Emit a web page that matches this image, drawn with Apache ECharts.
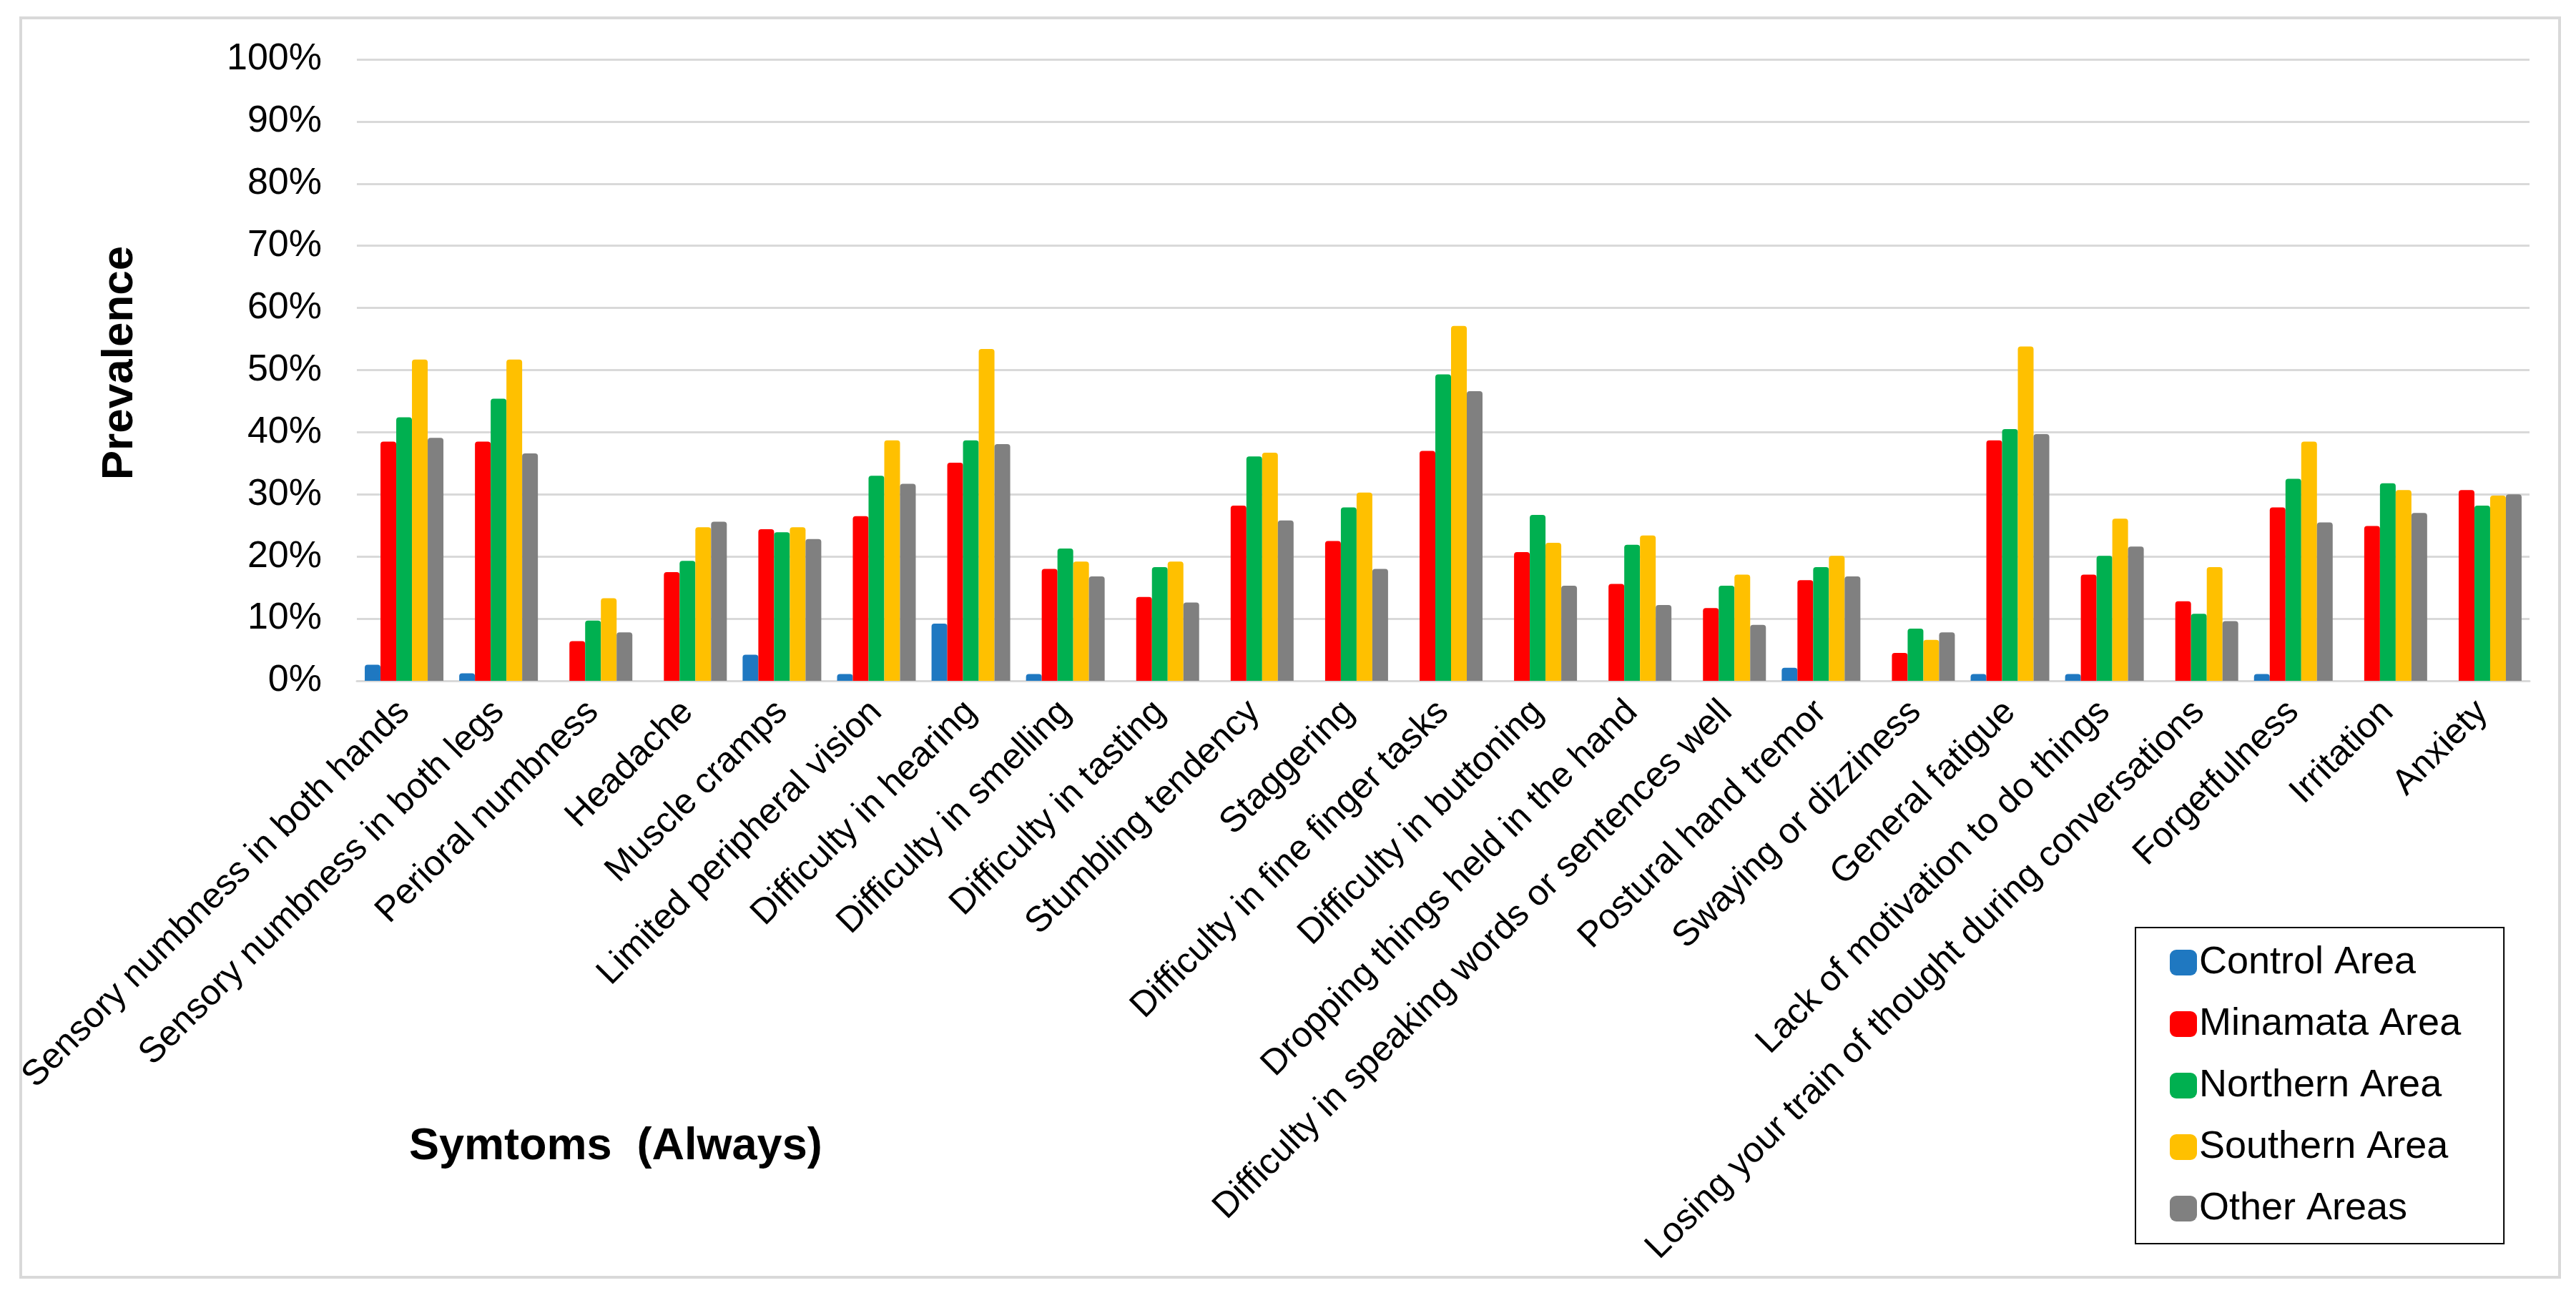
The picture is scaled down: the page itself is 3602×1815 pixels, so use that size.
<!DOCTYPE html>
<html>
<head>
<meta charset="utf-8">
<script src="https://cdn.jsdelivr.net/npm/echarts@6/dist/echarts.min.js"></script>
<style>
  html, body { margin: 0; padding: 0; background: #fff; }
  #main { width: 3602px; height: 1815px; }
</style>
</head>
<body>
<div id="main"></div>
<script>
var symptoms = [
  'Sensory numbness in both hands',
  'Sensory numbness in both legs',
  'Perioral numbness',
  'Headache',
  'Muscle cramps',
  'Limited peripheral vision',
  'Difficulty in hearing',
  'Difficulty in smelling',
  'Difficulty in tasting',
  'Stumbling tendency',
  'Staggering',
  'Difficulty in fine finger tasks',
  'Difficulty in buttoning',
  'Dropping things held in the hand',
  'Difficulty in speaking words or sentences well',
  'Postural hand tremor',
  'Swaying or dizziness',
  'General fatigue',
  'Lack of motivation to do things',
  'Losing your train of thought during conversations',
  'Forgetfulness',
  'Irritation',
  'Anxiety'
];

// prevalence in %
var controlArea  = [2.6, 1.2, 0, 0, 4.2, 1.1, 9.2, 1.1, 0, 0, 0, 0, 0, 0, 0, 2.1, 0, 1.1, 1.1, 0, 1.1, 0, 0];
var minamataArea = [38.5, 38.5, 6.4, 17.5, 24.4, 26.5, 35.1, 18.0, 13.5, 28.2, 22.5, 37.0, 20.7, 15.6, 11.7, 16.2, 4.5, 38.7, 17.1, 12.8, 27.9, 24.9, 30.7];
var northernArea = [42.4, 45.4, 9.7, 19.3, 23.9, 33.0, 38.7, 21.3, 18.3, 36.1, 27.9, 49.3, 26.7, 21.9, 15.3, 18.3, 8.4, 40.5, 20.1, 10.8, 32.5, 31.8, 28.2];
var southernArea = [51.7, 51.7, 13.3, 24.7, 24.7, 38.7, 53.4, 19.2, 19.2, 36.7, 30.3, 57.1, 22.2, 23.4, 17.1, 20.1, 6.6, 53.8, 26.1, 18.3, 38.5, 30.7, 29.8];
var otherAreas   = [39.1, 36.6, 7.8, 25.6, 22.8, 31.7, 38.1, 16.8, 12.6, 25.8, 18.0, 46.6, 15.3, 12.2, 9.0, 16.8, 7.8, 39.7, 21.6, 9.6, 25.5, 27.0, 30.0];

var seriesNames = ['Control Area', 'Minamata Area', 'Northern Area', 'Southern Area', 'Other Areas'];
var seriesColors = ['#1F78C1', '#FF0000', '#00B050', '#FFC000', '#808080'];
var seriesData = [controlArea, minamataArea, northernArea, southernArea, otherAreas];

var font = '"Liberation Sans", Arial, sans-serif';
var myChart = echarts.init(document.getElementById('main'));

var series = seriesNames.map(function (name, i) {
  return {
    name: name,
    type: 'bar',
    data: seriesData[i],
    barWidth: 22,
    barGap: '0%',
    itemStyle: { color: seriesColors[i], borderRadius: [4, 4, 0, 0] }
  };
});

var option = {
  backgroundColor: '#fff',
  animation: false,
  textStyle: { fontFamily: font },
  graphic: [{
    type: 'rect',
    shape: { x: 29, y: 25, width: 3550, height: 1761 },
    style: { fill: null, stroke: '#D9D9D9', lineWidth: 4 },
    silent: true
  }],
  title: {
    text: 'Symtoms  (Always)',
    left: 572,
    top: 1572,
    padding: 0,
    textStyle: { fontFamily: font, fontSize: 63, fontWeight: 'bold', color: '#000' }
  },
  legend: {
    orient: 'vertical',
    left: 2986,
    top: 1297,
    data: seriesNames,
    icon: 'roundRect',
    itemWidth: 38,
    itemHeight: 36,
    itemGap: 32,
    padding: [22, 60, 22, 48],
    borderColor: '#000',
    borderWidth: 2,
    textStyle: { fontFamily: font, fontSize: 54, color: '#000', lineHeight: 50, padding: [0, 0, 0, -2] }
  },
  grid: {
    left: 499,
    right: 65,
    top: 83,
    bottom: 863,
    containLabel: false
  },
  xAxis: {
    type: 'category',
    data: symptoms,
    axisLine: { show: true, lineStyle: { color: '#D9D9D9', width: 3 } },
    axisTick: { show: false },
    axisLabel: {
      interval: 0,
      rotate: 45,
      margin: 36,
      padding: [20, 0, 0, 0],
      fontFamily: font,
      fontSize: 50,
      color: '#000'
    }
  },
  yAxis: {
    type: 'value',
    min: 0,
    max: 100,
    interval: 10,
    name: 'Prevalence',
    nameLocation: 'middle',
    nameRotate: 90,
    nameGap: 300,
    nameTextStyle: { fontFamily: font, fontSize: 62, fontWeight: 'bold', color: '#000', padding: [0, 0, 0, 20] },
    axisLine: { show: false },
    axisTick: { show: false },
    axisLabel: {
      formatter: '{value}%',
      margin: 49,
      fontFamily: font,
      fontSize: 52,
      color: '#000'
    },
    splitLine: { lineStyle: { color: '#D9D9D9', width: 3 } }
  },
  series: series
};

myChart.setOption(option);
</script>
</body>
</html>
